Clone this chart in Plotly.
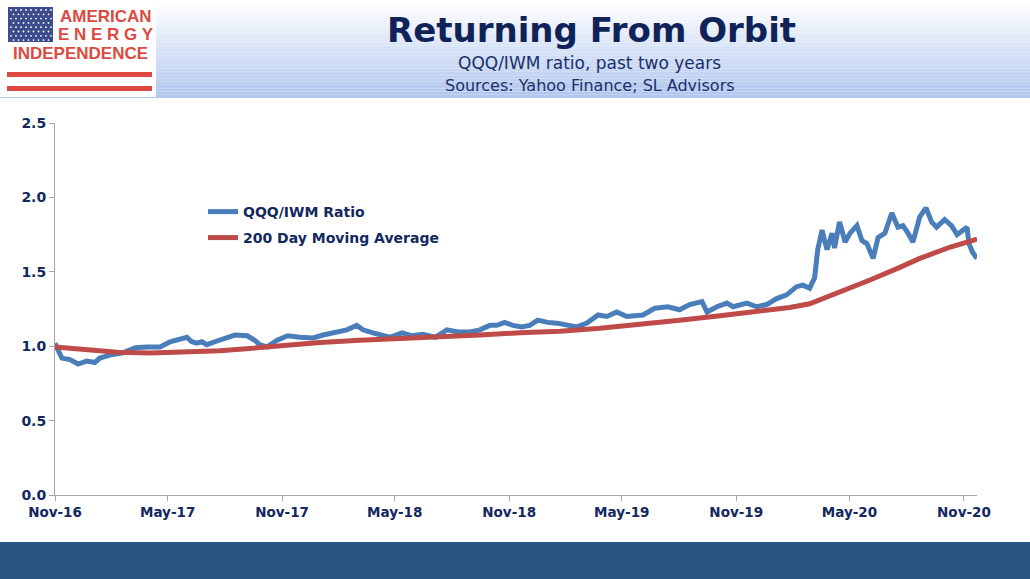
import plotly.graph_objects as go

# QQQ/IWM ratio
ratio_dates = [
    "2016-11-01", "2016-11-12", "2016-11-25", "2016-12-08", "2016-12-22", "2017-01-04",
    "2017-01-12", "2017-01-28", "2017-02-18", "2017-03-10", "2017-03-29", "2017-04-19",
    "2017-05-05", "2017-06-01", "2017-06-09", "2017-06-17", "2017-06-25", "2017-07-03",
    "2017-07-16", "2017-08-04", "2017-08-17", "2017-09-06", "2017-09-18", "2017-09-26",
    "2017-10-08", "2017-10-24", "2017-11-10", "2017-11-30", "2017-12-21", "2018-01-06",
    "2018-01-28", "2018-02-13", "2018-03-01", "2018-03-11", "2018-03-27", "2018-04-07",
    "2018-04-23", "2018-05-13", "2018-05-29", "2018-06-15", "2018-07-05", "2018-07-24",
    "2018-08-11", "2018-08-30", "2018-09-15", "2018-10-01", "2018-10-12", "2018-10-25",
    "2018-11-07", "2018-11-21", "2018-12-04", "2018-12-17", "2019-01-02", "2019-01-17",
    "2019-02-02", "2019-02-18", "2019-03-06", "2019-03-24", "2019-04-07", "2019-04-23",
    "2019-05-09", "2019-05-25", "2019-06-04", "2019-06-23", "2019-07-14", "2019-08-02",
    "2019-08-18", "2019-09-07", "2019-09-15", "2019-10-01", "2019-10-17", "2019-10-27",
    "2019-11-18", "2019-12-04", "2019-12-20", "2020-01-05", "2020-01-21", "2020-02-06",
    "2020-02-16", "2020-02-27", "2020-03-06", "2020-03-11", "2020-03-18", "2020-03-22",
    "2020-03-26", "2020-04-03", "2020-04-07", "2020-04-15", "2020-04-24", "2020-05-02",
    "2020-05-13", "2020-05-21", "2020-05-29", "2020-06-08", "2020-06-16", "2020-06-27",
    "2020-07-08", "2020-07-18", "2020-07-26", "2020-08-03", "2020-08-11", "2020-08-22",
    "2020-09-01", "2020-09-10", "2020-09-18", "2020-10-01", "2020-10-12", "2020-10-21",
    "2020-10-29", "2020-11-06", "2020-11-09", "2020-11-15", "2020-11-22",
]
ratio_values = [
    1.02, 0.92, 0.91, 0.88, 0.90, 0.89,
    0.92, 0.94, 0.955, 0.99, 0.995, 0.995,
    1.03, 1.06, 1.03, 1.02, 1.03, 1.01,
    1.03, 1.06, 1.075, 1.07, 1.04, 1.01,
    0.995, 1.04, 1.07, 1.06, 1.055, 1.075,
    1.095, 1.11, 1.14, 1.11, 1.09, 1.075,
    1.06, 1.09, 1.07, 1.08, 1.06, 1.11,
    1.095, 1.095, 1.11, 1.14, 1.14, 1.16,
    1.14, 1.13, 1.14, 1.175, 1.16, 1.155,
    1.14, 1.13, 1.155, 1.21, 1.20, 1.23,
    1.20, 1.21, 1.21, 1.255, 1.265, 1.245,
    1.28, 1.30, 1.23, 1.265, 1.29, 1.265,
    1.29, 1.265, 1.28, 1.32, 1.345, 1.40,
    1.41, 1.39, 1.46, 1.65, 1.78, 1.71,
    1.65, 1.76, 1.66, 1.835, 1.70, 1.76,
    1.81, 1.71, 1.69, 1.59, 1.73, 1.76,
    1.895, 1.80, 1.81, 1.76, 1.70, 1.87,
    1.93, 1.835, 1.80, 1.85, 1.81, 1.75,
    1.78, 1.80, 1.69, 1.63, 1.59,
]

# 200 day moving average
ma_dates = [
    "2016-11-01", "2016-12-27", "2017-02-09", "2017-04-03", "2017-05-26", "2017-07-24",
    "2017-09-10", "2017-11-01", "2018-01-01", "2018-03-06", "2018-05-09", "2018-07-13",
    "2018-09-15", "2018-11-18", "2019-01-22", "2019-03-27", "2019-05-30", "2019-08-02",
    "2019-10-06", "2019-12-09", "2020-01-26", "2020-02-27", "2020-03-14", "2020-04-07",
    "2020-05-02", "2020-06-03", "2020-07-21", "2020-08-22", "2020-10-09", "2020-11-22",
]
ma_values = [
    0.995, 0.975, 0.96, 0.955, 0.96, 0.97,
    0.985, 1.005, 1.025, 1.04, 1.05, 1.06,
    1.075, 1.09, 1.10, 1.12, 1.145, 1.175,
    1.205, 1.235, 1.26, 1.285, 1.31, 1.35,
    1.39, 1.445, 1.53, 1.59, 1.665, 1.72,
]

tick_dates = ["2016-11-01", "2017-05-01", "2017-11-01", "2018-05-01", "2018-11-01",
              "2019-05-01", "2019-11-01", "2020-05-01", "2020-11-01"]
tick_labels = ["Nov-16", "May-17", "Nov-17", "May-18", "Nov-18",
               "May-19", "Nov-19", "May-20", "Nov-20"]

W, H = 1030, 579
L, R, T, B = 55, 977, 123, 495
NAVY = "#13285e"


def px(x):
    return (x - L) / (R - L)


def py(y):
    return (B - y) / (B - T)


fig = go.Figure()

fig.add_trace(go.Scatter(x=ratio_dates, y=ratio_values, mode="lines",
                         name="QQQ/IWM Ratio", legend="legend", showlegend=True,
                         line=dict(color="#4a7ebb", width=5)))
fig.add_trace(go.Scatter(x=ma_dates, y=ma_values, mode="lines",
                         name="200 Day Moving Average", legend="legend2", showlegend=True,
                         line=dict(color="#be4b48", width=5)))

shapes = []

# header gradient band
steps = 30
top_c = (255, 255, 255)
bot_c = (178, 199, 238)
for i in range(steps):
    f = i / (steps - 1)
    c = tuple(int(top_c[k] + (bot_c[k] - top_c[k]) * f) for k in range(3))
    y0 = 98 * i / steps
    y1 = 98 * (i + 1) / steps
    shapes.append(dict(type="rect", xref="paper", yref="paper",
                       x0=px(0), x1=px(W), y0=py(y1), y1=py(y0),
                       fillcolor="rgb(%d,%d,%d)" % c, line=dict(width=0), layer="below"))

# logo box
shapes.append(dict(type="rect", xref="paper", yref="paper",
                   x0=px(0), x1=px(156), y0=py(97), y1=py(0),
                   fillcolor="white", line=dict(width=0)))
shapes.append(dict(type="rect", xref="paper", yref="paper",
                   x0=px(8), x1=px(53), y0=py(42), y1=py(7),
                   fillcolor="#3b4b8c", line=dict(width=0)))
for r in range(8):
    for c in range(9):
        cx = 11 + c * 5 + (2.5 if r % 2 else 0)
        cy = 10 + r * 4.3
        if cx > 51:
            continue
        shapes.append(dict(type="circle", xref="paper", yref="paper",
                           x0=px(cx - 0.9), x1=px(cx + 0.9), y0=py(cy + 0.9), y1=py(cy - 0.9),
                           fillcolor="white", line=dict(width=0)))
for sy in (72, 86):
    shapes.append(dict(type="rect", xref="paper", yref="paper",
                       x0=px(7), x1=px(152), y0=py(sy + 5), y1=py(sy),
                       fillcolor="#dc4a42", line=dict(width=0)))

# bottom band
shapes.append(dict(type="rect", xref="paper", yref="paper",
                   x0=px(0), x1=px(W), y0=py(H), y1=py(542),
                   fillcolor="#2a5582", line=dict(width=0)))

annotations = [
    dict(text="<b>AMERICAN</b>", x=px(106), y=py(16), font=dict(family="Liberation Sans", size=17, color="#dc4a42")),
    dict(text="<b>E N E R G Y</b>", x=px(106), y=py(34), font=dict(family="Liberation Sans", size=17, color="#dc4a42")),
    dict(text="<b>INDEPENDENCE</b>", x=px(80), y=py(54), font=dict(family="Liberation Sans", size=17, color="#dc4a42")),
    dict(text="<b>Returning From Orbit</b>", x=px(591), y=py(30), font=dict(family="DejaVu Sans", size=34, color="#0f2359")),
    dict(text="QQQ/IWM ratio, past two years", x=px(589), y=py(63), font=dict(family="DejaVu Sans", size=17, color="#1b2f6b")),
    dict(text="Sources: Yahoo Finance; SL Advisors", x=px(590), y=py(85), font=dict(family="DejaVu Sans", size=16, color="#1b2f6b")),
]
for a in annotations:
    a.update(xref="paper", yref="paper", showarrow=False, xanchor="center", yanchor="middle")

legend_style = dict(font=dict(family="DejaVu Sans", size=14, color=NAVY, weight="bold"),
                    bgcolor="rgba(0,0,0,0)", itemwidth=30, xanchor="left", yanchor="middle")

fig.update_layout(
    width=W, height=H,
    margin=dict(l=L, r=W - R, t=T, b=H - B),
    paper_bgcolor="white",
    plot_bgcolor="white",
    showlegend=True,
    shapes=shapes,
    annotations=annotations,
    legend=dict(x=px(203), y=py(212), **legend_style),
    legend2=dict(x=px(203), y=py(238), **legend_style),
    xaxis=dict(
        type="date",
        range=["2016-11-01", "2020-11-22"],
        tickvals=tick_dates, ticktext=tick_labels,
        showgrid=False, zeroline=False,
        showline=True, linecolor="#a6a6a6", linewidth=1,
        ticks="outside", ticklen=5, tickcolor="#a6a6a6",
        tickfont=dict(family="DejaVu Sans", size=13.5, color=NAVY, weight="bold"),
    ),
    yaxis=dict(
        range=[0, 2.5],
        tickvals=[0, 0.5, 1.0, 1.5, 2.0, 2.5],
        tickformat=".1f",
        showgrid=False, zeroline=False,
        showline=True, linecolor="#a6a6a6", linewidth=1,
        ticks="outside", ticklen=5, tickcolor="#a6a6a6",
        tickfont=dict(family="DejaVu Sans", size=14, color=NAVY, weight="bold"),
    ),
)

# drop the page's default body margin so the figure sits at the window corner
fig.write_html("out.html", config={"displayModeBar": False},
               post_script="document.body.style.margin='0';")
